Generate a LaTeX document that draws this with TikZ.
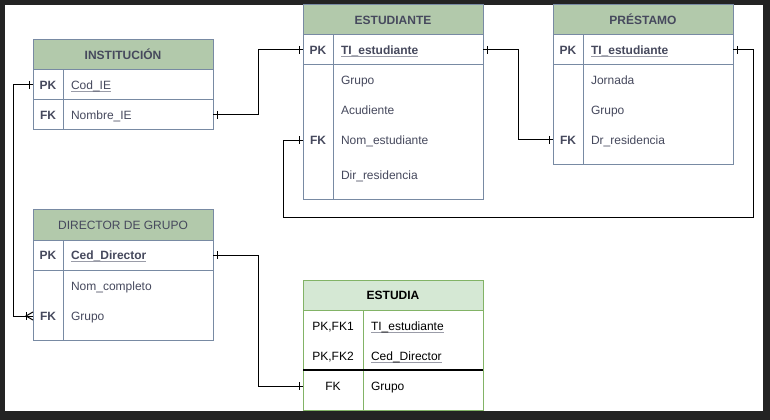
\documentclass[tikz,border=0pt]{standalone}
\usepackage{fontspec}
\setmainfont{Liberation Sans}
\definecolor{darkbg}{HTML}{232323}
\definecolor{gbord}{HTML}{788AA3}
\definecolor{ghdr}{HTML}{B2C9AB}
\definecolor{gtxt}{HTML}{46495D}
\definecolor{ebord}{HTML}{82B366}
\definecolor{ehdr}{HTML}{D5E8D4}
\definecolor{ulc}{HTML}{9A9CA8}
\newcommand\myul[1]{\setbox0\hbox{#1}\rlap{\raisebox{-1.6pt}{\color{ulc}\rule{\wd0}{0.6pt}}}\box0}
\tikzset{
  fnt/.style={font=\fontsize{9}{11}\selectfont},
  bfnt/.style={font=\bfseries\fontsize{9}{11}\selectfont},
  tx/.style={inner sep=0pt, outer sep=0pt, text height=6.45pt, text depth=0pt},
  cell/.style={draw=gbord, fill=white, line width=0.75pt, inner sep=0pt, outer sep=0pt,
               text=gtxt, text height=6.45pt, text depth=0pt, bfnt},
  hdr/.style={cell, fill=ghdr, minimum width=135pt, minimum height=22.5pt},
  ecell/.style={cell, draw=ebord, text=black, fnt},
  ehdr/.style={ecell, fill=ehdr, bfnt, minimum width=135pt, minimum height=22.5pt},
  kc/.style={minimum width=22.5pt},
  ac/.style={minimum width=112.5pt},
  rowh/.style={minimum height=22.5pt},
  atxt/.style={tx, anchor=west, text=gtxt, fnt},
  batxt/.style={tx, anchor=west, text=gtxt, bfnt},
  ktxt/.style={tx, text=gtxt, bfnt},
  etxt/.style={tx, anchor=west, text=black, fnt},
  ektxt/.style={tx, text=black, fnt},
  conn/.style={draw=black, line width=0.75pt},
}
\begin{document}
\begin{tikzpicture}[x=0.75pt, y=-0.75pt]
\fill[darkbg] (0,0) rectangle (770,420);
\fill[white] (5,5) rectangle (763,411);
\useasboundingbox (0,0) rectangle (770,420);

% INSTITUCION
\node[hdr] (inst-h) at (123,55) {INSTITUCIÓN};
\node[cell,kc,rowh] (inst-pkk) at (48,85) {PK};
\node[cell,ac,rowh] (inst-pka) at (138,85) {};
\node[cell,kc,rowh] (inst-fkk) at (48,115) {FK};
\node[cell,ac,rowh] (inst-fka) at (138,115) {};
\node[atxt] (inst-cod) at (71,85) {\myul{Cod\_IE}};
\node[atxt] (inst-nom) at (71,115) {Nombre\_IE};

% DIRECTOR DE GRUPO
\node[hdr, fnt] (dir-h) at (123,225) {DIRECTOR DE GRUPO};
\node[cell,kc,rowh] (dir-pkk) at (48,255) {PK};
\node[cell,ac,rowh] (dir-pka) at (138,255) {};
\node[cell,kc,minimum height=52.5pt] (dir-bk) at (48,305) {};
\node[cell,ac,minimum height=52.5pt] (dir-ba) at (138,305) {};
\node[batxt] (dir-ced) at (71,255) {\myul{Ced\_Director}};
\node[atxt] (dir-nom) at (71,286) {Nom\_completo};
\node[atxt] (dir-gru) at (71,316) {Grupo};
\node[ktxt] (dir-fk) at (48,316) {FK};

% ESTUDIANTE
\node[hdr] (est-h) at (393,20) {ESTUDIANTE};
\node[cell,kc,rowh] (est-pkk) at (318,50) {PK};
\node[cell,ac,rowh] (est-pka) at (408,50) {};
\node[cell,kc,minimum height=101.25pt] (est-bk) at (318,132.5) {};
\node[cell,ac,minimum height=101.25pt] (est-ba) at (408,132.5) {};
\node[batxt] (est-ti) at (341,50) {\myul{TI\_estudiante}};
\node[atxt] (est-gru) at (341,80.5) {Grupo};
\node[atxt] (est-acu) at (341,110) {Acudiente};
\node[atxt] (est-nom) at (341,140.5) {Nom\_estudiante};
\node[atxt] (est-dir) at (341,175) {Dir\_residencia};
\node[ktxt] (est-fk) at (318,140.5) {FK};

% PRESTAMO
\node[hdr] (pre-h) at (643,20) {PRÉSTAMO};
\node[cell,kc,rowh] (pre-pkk) at (568,50) {PK};
\node[cell,ac,rowh] (pre-pka) at (658,50) {};
\node[cell,kc,minimum height=75pt] (pre-bk) at (568,115) {};
\node[cell,ac,minimum height=75pt] (pre-ba) at (658,115) {};
\node[batxt] (pre-ti) at (591,50) {\myul{TI\_estudiante}};
\node[atxt] (pre-jor) at (591,80) {Jornada};
\node[atxt] (pre-gru) at (591,110) {Grupo};
\node[atxt] (pre-dr) at (591,140) {Dr\_residencia};
\node[ktxt] (pre-fk) at (568,140) {FK};

% ESTUDIA
\node[ehdr] (estu-h) at (393,295) {ESTUDIA};
\node[ecell,minimum width=45pt,minimum height=45pt] (estu-uk) at (333,340) {};
\node[ecell,minimum width=90pt,minimum height=45pt] (estu-ua) at (423,340) {};
\node[ecell,minimum width=45pt,minimum height=30pt] (estu-lk) at (333,390) {};
\node[ecell,minimum width=90pt,minimum height=30pt] (estu-la) at (423,390) {};
\draw[black, line width=0.9pt] (estu-uk.south west) -- (estu-ua.south east);
\node[ektxt] (estu-k1) at (333,326) {PK,FK1};
\node[etxt] (estu-ti) at (371,326) {\myul{TI\_estudiante}};
\node[ektxt] (estu-k2) at (333,356) {PK,FK2};
\node[etxt] (estu-ced) at (371,356) {\myul{Ced\_Director}};
\node[ektxt] (estu-fk) at (333,386) {FK};
\node[etxt] (estu-gru) at (371,386) {Grupo};

% connectors
\draw[conn] (inst-fka.east) -- ++(45,0) |- (est-pkk.west);
\draw[conn] (inst-fka.east) ++(4,-4) -- ++(0,8);
\draw[conn] (est-pkk.west) ++(-4,-4) -- ++(0,8);

\draw[conn] (inst-pkk.west) -- ++(-20,0) |- (dir-fk -| dir-bk.west);
\draw[conn] (inst-pkk.west) ++(-4,-4) -- ++(0,8);
\draw[conn] (dir-fk -| dir-bk.west) ++(0,-4) -- ++(-7,4) -- ++(7,4);
\draw[conn] (dir-fk -| dir-bk.west) ++(-7,-4) -- ++(0,8);

\draw[conn] (dir-pka.east) -- ++(45,0) |- (estu-fk -| estu-lk.west);
\draw[conn] (dir-pka.east) ++(4,-4) -- ++(0,8);
\draw[conn] (estu-fk -| estu-lk.west) ++(-4,-4) -- ++(0,8);

\draw[conn] (est-pka.east) -- ++(35,0) |- (pre-fk -| pre-bk.west);
\draw[conn] (est-pka.east) ++(4,-4) -- ++(0,8);
\draw[conn] (pre-fk -| pre-bk.west) ++(-4,-4) -- ++(0,8);

\draw[conn] (pre-pka.east) -- ++(20,0) -- ++(0,168) -- ++(-470,0) |- (est-fk -| est-bk.west);
\draw[conn] (pre-pka.east) ++(4,-4) -- ++(0,8);
\draw[conn] (est-fk -| est-bk.west) ++(-4,-4) -- ++(0,8);
\end{tikzpicture}
\end{document}
